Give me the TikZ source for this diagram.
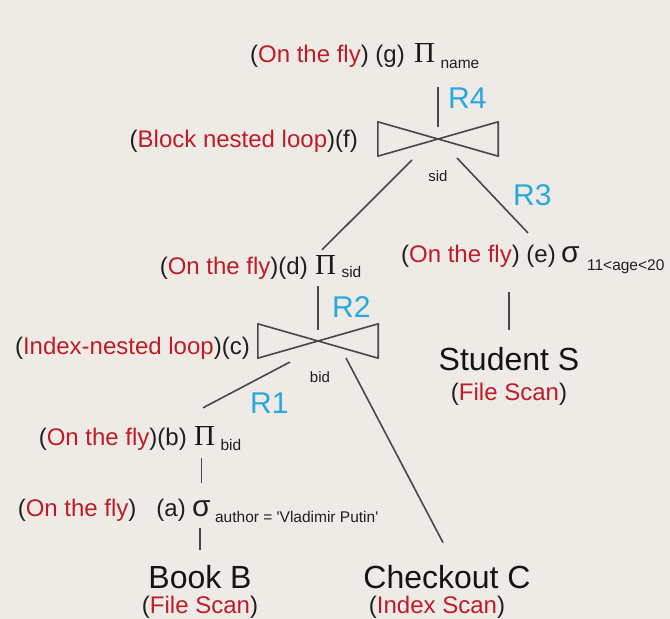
\documentclass[tikz,border=0pt]{standalone}
\usepackage{fontspec}
\setmainfont{Liberation Sans}
\newfontfamily\serifgreek{Liberation Serif}
\usepackage{xcolor}
\usetikzlibrary{positioning}

\definecolor{paper}{RGB}{238,235,230}
\definecolor{howred}{RGB}{190,28,40}
\definecolor{relblue}{RGB}{41,168,224}
\definecolor{wiregrey}{RGB}{72,72,72}

\newcommand{\how}[1]{(\textcolor{howred}{#1})}

\begin{document}
\begin{tikzpicture}[
  x=1pt, y=-1pt,
  lbl/.style     = {inner sep=0pt, font=\fontsize{24}{28}\selectfont, text=black!88},
  pisym/.style   = {inner sep=0pt, font=\serifgreek\fontsize{29}{30}\selectfont, text=black!90},
  sigsym/.style  = {inner sep=0pt, font=\fontsize{30}{32}\selectfont, text=black!88},
  sub/.style     = {inner sep=0pt, font=\fontsize{15.5}{18}\selectfont, text=black!88},
  joinkey/.style = {inner sep=0pt, font=\fontsize{15}{18}\selectfont, text=black!88},
  rname/.style   = {inner sep=0pt, font=\fontsize{30}{34}\selectfont, text=relblue},
  rel/.style     = {inner sep=0pt, font=\fontsize{32}{36}\selectfont, text=black!92},
  bowtie/.style  = {inner sep=0pt, minimum width=120pt, minimum height=34pt},
  wire/.style    = {draw=wiregrey, line width=1.6pt}
]

\fill[paper] (0,0) rectangle (670,619);
\useasboundingbox (0,0) rectangle (670,619);

% ---------- top: projection (g) and join (f) ----------
\node[pisym, anchor=base west] (g) at (414,62) {Π};
\node[lbl, base left=9pt of g]               (gl)   {\how{On the fly} (g)};
\node[sub, base right=5pt of g, yshift=-6pt] (gsub) {name};
\node[rname, anchor=base west] (r4) at (448,108) {R4};

\node[bowtie] (f) at (438,139) {};
\node[lbl, anchor=base east] (fl) at (358,147) {(\textcolor{howred}{Block nested loop})(f)};
\node[joinkey] (fkey) at (438,176) {sid};
\node[rname, anchor=base west] (r3) at (513,205) {R3};

% ---------- middle: (d), (e) and join (c) ----------
\node[pisym, anchor=base west] (d) at (315,274) {Π};
\node[lbl, base left=7pt of d]               (dl)   {\how{On the fly}(d)};
\node[sub, base right=5pt of d, yshift=-3pt] (dsub) {sid};

\node[sigsym, anchor=base west] (e) at (561,262) {σ};
\node[lbl, base left=5pt of e]               (el)   {\how{On the fly} (e)};
\node[sub, base right=7pt of e, yshift=-8pt] (esub) {11<age<20};

\node[rname, anchor=base west] (r2) at (332,317) {R2};
\node[bowtie] (c) at (318,341) {};
\node[lbl, anchor=base east] (cl) at (250,354) {(\textcolor{howred}{Index-nested loop})(c)};
\node[joinkey] (ckey) at (320,377) {bid};

\node[rel, anchor=base] (stu) at (509,370) {Student S};
\node[lbl, below=12pt of stu] (stuscan) {\how{File Scan}};

% ---------- bottom: (b), (a) and base relations ----------
\node[rname, anchor=base west] (r1) at (250,413) {R1};

\node[pisym, anchor=base west] (b) at (194,445) {Π};
\node[lbl, base left=7pt of b]               (bl)   {\how{On the fly}(b)};
\node[sub, base right=5pt of b, yshift=-5pt] (bsub) {bid};

\node[sigsym, anchor=base west] (a) at (192,516) {σ};
\node[lbl, base left=6pt of a]               (al)   {\how{On the fly}\hspace{20pt}(a)};
\node[sub, base right=4pt of a, yshift=-6pt] (asub) {author = \textquotesingle Vladimir Putin\textquotesingle};

\node[rel, anchor=base] (book) at (200,588) {Book B};
\node[lbl, below=7pt of book] (bookscan) {\how{File Scan}};
\node[rel, anchor=base] (chk) at (447,588) {Checkout C};
\node[lbl, below=7pt of chk, xshift=-10pt] (chkscan) {\how{Index Scan}};

% ---------- join symbols ----------
\foreach \j in {f,c}
  \draw[wire, line join=round] (\j.north west) -- (\j.south east)
        -- (\j.north east) -- (\j.south west) -- cycle;

% ---------- tree edges ----------
\draw[wire, shorten <=25pt] (f.center |- g.south) -- ([yshift=12pt]f.center);
\draw[wire] ([shift={(-26pt,-21pt)}]f.center) -- ([shift={(7pt,5pt)}]d.north west);
\draw[wire] ([shift={(19pt,-19pt)}]f.center)  -- ([shift={(-33pt,13pt)}]e.north west);

\draw[wire, shorten <=12pt] (c.center |- d.south) -- ([yshift=11pt]c.center);
\draw[wire] ([shift={(-28pt,-21pt)}]c.center) -- ([shift={(9pt,18pt)}]b.north west);
\draw[wire] ([shift={(28pt,-17pt)}]c.center)  -- ([shift={(-4pt,22pt)}]chk.north);

\draw[wire, shorten <=30pt, shorten >=17pt] (stu.north |- e.south)  -- (stu.north);
\draw[wire, shorten <=13pt, shorten >=17pt] (a.north |- b.south)    -- (a.north);
\draw[wire, shorten <=11pt, shorten >=15pt] (book.north |- a.south) -- (book.north);

\end{tikzpicture}
\end{document}
